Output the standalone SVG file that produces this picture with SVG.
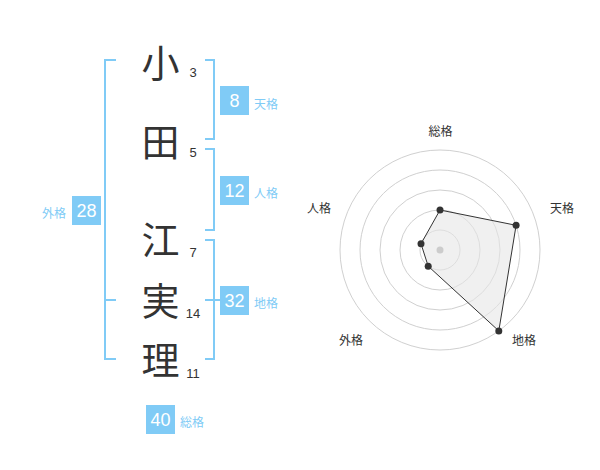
<svg xmlns="http://www.w3.org/2000/svg" width="600" height="470" viewBox="0 0 600 470">
<style>
.k{font-family:"Noto Sans CJK JP","Noto Sans",sans-serif;font-size:38px;fill:#333;text-anchor:middle}
.n{font-family:"Liberation Sans",Arial,sans-serif;font-size:13px;fill:#333;text-anchor:middle}
.bx{fill:#80cbf6}
.bn{font-family:"Liberation Sans",Arial,sans-serif;font-size:18px;fill:#fff;text-anchor:middle}
.bl{font-family:"Noto Sans CJK JP",sans-serif;font-size:12px;fill:#80cbf6}
.br{fill:none;stroke:#80cbf6;stroke-width:2}
.rc{fill:none;stroke:#d0d0d0;stroke-width:1}
.rl{font-family:"Noto Sans CJK JP",sans-serif;font-size:12px;fill:#333;text-anchor:middle}
.pt{fill:#333}
</style>
<rect width="600" height="470" fill="#fff"/>
<g id="connectors">
<path class="br" d="M116,60 H105 V359 H116 M105,300 H116"/>
<path class="br" d="M205,60 H214 V139 H205"/>
<path class="br" d="M205,149 H214 V230 H205"/>
<path class="br" d="M205,240 H214 V359 H205 M205,300 H220"/>
</g>
<g id="char-1"><text class="k" x="160.5" y="77">小</text><text class="n" x="193" y="77">3</text></g>
<g id="char-2"><text class="k" x="160.5" y="156">田</text><text class="n" x="193" y="157">5</text></g>
<g id="char-3"><text class="k" x="160.5" y="254">江</text><text class="n" x="193" y="257">7</text></g>
<g id="char-4"><text class="k" x="160.5" y="315">実</text><text class="n" x="193" y="318">14</text></g>
<g id="char-5"><text class="k" x="160.5" y="374">理</text><text class="n" x="193" y="378">11</text></g>
<g id="tenkaku"><rect class="bx" x="220" y="86" width="29" height="29"/><text class="bn" x="234.5" y="107">8</text><text class="bl" x="254" y="109">天格</text></g>
<g id="jinkaku"><rect class="bx" x="220" y="176" width="29" height="29"/><text class="bn" x="234.5" y="197">12</text><text class="bl" x="254" y="198">人格</text></g>
<g id="chikaku"><rect class="bx" x="220" y="286" width="29" height="29"/><text class="bn" x="234.5" y="307">32</text><text class="bl" x="254" y="308">地格</text></g>
<g id="gaikaku"><rect class="bx" x="72" y="196" width="29" height="29"/><text class="bn" x="86.5" y="217">28</text><text class="bl" x="42" y="218">外格</text></g>
<g id="soukaku"><rect class="bx" x="146" y="405" width="29" height="29"/><text class="bn" x="160.5" y="426">40</text><text class="bl" x="180" y="427">総格</text></g>
<g id="radar">
<circle class="rc" cx="440" cy="250" r="20"/>
<circle class="rc" cx="440" cy="250" r="40"/>
<circle class="rc" cx="440" cy="250" r="60"/>
<circle class="rc" cx="440" cy="250" r="80"/>
<circle class="rc" cx="440" cy="250" r="100"/>
<polygon points="440,210 516.1,225.3 498.8,330.9 428.2,266.2 421,243.8" fill="#e6e6e6" fill-opacity="0.6" stroke="#333" stroke-width="1"/>
<circle cx="440" cy="250" r="3.5" fill="#ccc"/>
<circle class="pt" cx="440" cy="210" r="3.5"/>
<circle class="pt" cx="516.1" cy="225.3" r="3.5"/>
<circle class="pt" cx="498.8" cy="330.9" r="3.5"/>
<circle class="pt" cx="428.2" cy="266.2" r="3.5"/>
<circle class="pt" cx="421" cy="243.8" r="3.5"/>
<text class="rl" x="440.5" y="135.5">総格</text>
<text class="rl" x="562" y="212.5">天格</text>
<text class="rl" x="524" y="344.5">地格</text>
<text class="rl" x="351" y="344.5">外格</text>
<text class="rl" x="319" y="212.5">人格</text>
</g>
</svg>
